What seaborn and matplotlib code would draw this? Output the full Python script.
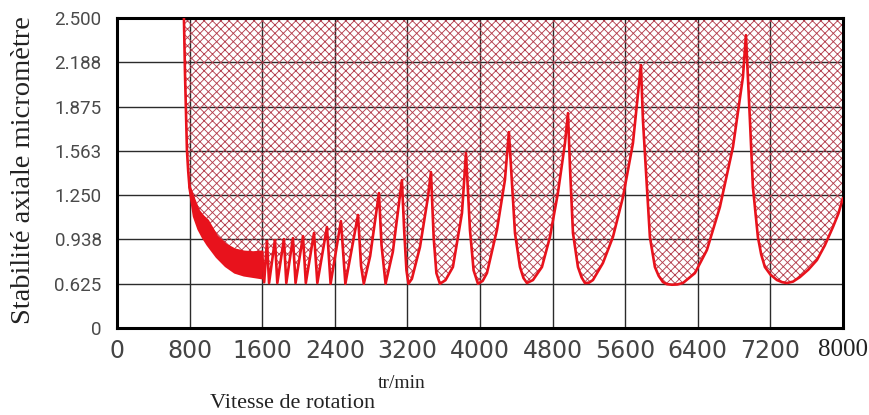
import pandas as pd
import numpy as np
import seaborn as sns
import matplotlib.pyplot as plt

# curve values (rpm, micrometre)
entry_rpm = [738, 750, 760, 771, 785, 800]
entry_um = [2.50, 2.10, 1.85, 1.57, 1.42, 1.30]

# dense small lobes between 800 and 1600 rpm form a solid band
band_rpm = [800, 850, 900, 950, 1000, 1100, 1200, 1300, 1400, 1500, 1600]
band_low = [1.30, 1.10, 1.01, 0.95, 0.90, 0.815, 0.75, 0.705, 0.685, 0.675, 0.665]
band_high = [1.31, 1.22, 1.14, 1.10, 1.07, 0.96, 0.90, 0.865, 0.85, 0.845, 0.85]

lobe_rpm = [1600, 1622, 1653, 1676, 1741, 1767, 1840, 1866, 1939, 1968,
            2050, 2081, 2171, 2208, 2314, 2354, 2468, 2517, 2656, 2690,
            2720, 2790, 2887, 2915, 2960, 3040, 3140, 3165, 3190, 3212,
            3250, 3339, 3427, 3460, 3490, 3520, 3559, 3620, 3702, 3802,
            3846, 3890, 3930, 3978, 4030, 4077, 4187, 4275, 4319, 4353,
            4386, 4441, 4480, 4518, 4584, 4683, 4771, 4859, 4937, 4970,
            4992, 5025, 5080, 5120, 5157, 5200, 5245, 5355, 5465, 5576,
            5686, 5774, 5796, 5840, 5873, 5928, 5970, 6016, 6060, 6116,
            6175, 6237, 6369, 6501, 6644, 6788, 6898, 6931, 6975, 7008,
            7063, 7100, 7140, 7200, 7273, 7330, 7383, 7450, 7526, 7620,
            7713, 7800, 7890, 7950, 8000]
lobe_um = [0.85, 0.635, 0.926, 0.63, 0.933, 0.63, 0.940, 0.63, 0.947, 0.63,
           0.961, 0.63, 0.983, 0.63, 1.025, 0.625, 1.067, 0.625, 1.110, 0.75,
           0.625, 0.82, 1.265, 0.90, 0.625, 0.85, 1.356, 1.00, 0.72, 0.625,
           0.66, 0.884, 1.236, 1.413, 0.95, 0.70, 0.625, 0.65, 0.743, 1.124,
           1.547, 1.004, 0.72, 0.625, 0.645, 0.700, 1.004, 1.356, 1.695, 1.335,
           0.983, 0.743, 0.665, 0.630, 0.651, 0.743, 0.954, 1.265, 1.617, 1.829,
           1.448, 0.983, 0.743, 0.670, 0.630, 0.632, 0.651, 0.771, 0.954, 1.236,
           1.617, 2.168, 1.780, 1.307, 0.954, 0.743, 0.680, 0.637, 0.622, 0.618,
           0.620, 0.630, 0.700, 0.863, 1.166, 1.589, 2.083, 2.379, 1.780, 1.307,
           0.954, 0.830, 0.743, 0.690, 0.651, 0.636, 0.630, 0.640, 0.672, 0.725,
           0.792, 0.895, 1.025, 1.120, 1.23]

x_ticks = [0, 800, 1600, 2400, 3200, 4000, 4800, 5600, 6400, 7200, 8000]
y_ticks = [0.3125, 0.625, 0.9375, 1.25, 1.5625, 1.875, 2.1875, 2.5]
y_labels = ["0", "0.625", "0.938", "1.250", "1.563", "1.875", "2.188", "2.500"]

RED = "#e8121c"
HATCH = "#b5404f"

sns.set_style("white")
plt.rcParams["hatch.color"] = HATCH
plt.rcParams["hatch.linewidth"] = 0.65

fig, ax = plt.subplots(figsize=(8.69, 4.15), dpi=100)
fig.subplots_adjust(left=0.1346, right=0.970, top=0.9566, bottom=0.2096)

# unstable region above the curve, cross hatched
top_rpm = entry_rpm[:-1] + band_rpm + lobe_rpm[1:]
top_um = entry_um[:-1] + band_high + lobe_um[1:]
ax.fill_between(top_rpm, top_um, 2.5, facecolor="none", edgecolor=HATCH,
                hatch="xxxx", linewidth=0, zorder=2)

ax.fill_between(band_rpm, band_low, band_high, color=RED, linewidth=0, zorder=3)

curve = pd.concat([
    pd.DataFrame({"rpm": entry_rpm + band_rpm[1:], "um": entry_um + band_low[1:], "part": 0}),
    pd.DataFrame({"rpm": band_rpm, "um": band_high, "part": 1}),
    pd.DataFrame({"rpm": lobe_rpm, "um": lobe_um, "part": 2}),
])
sns.lineplot(data=curve, x="rpm", y="um", units="part", estimator=None,
             sort=False, color=RED, lw=1.9, ax=ax, zorder=4)

ax.set_xlim(0, 8000)
ax.set_ylim(0.3125, 2.5)
ax.set_xticks(x_ticks)
ax.set_xticklabels([str(t) for t in x_ticks])
ax.set_yticks(y_ticks)
ax.set_yticklabels(y_labels)
ax.set_axisbelow(True)
ax.grid(True, color="#2b2b2b", lw=1)
for s in ax.spines.values():
    s.set_color("black")
    s.set_linewidth(2.2)
ax.tick_params(length=0)
ax.tick_params(axis="x", pad=8)
ax.tick_params(axis="y", pad=11)

for lab in ax.get_xticklabels():
    lab.set_fontfamily(["Liberation Sans Narrow", "DejaVu Sans"])
    lab.set_fontsize(17)
    lab.set_color("#444444")
last = ax.get_xticklabels()[-1]
last.set_fontfamily(["Liberation Serif", "DejaVu Serif"])
last.set_fontsize(18)
last.set_color("#222222")
for lab in ax.get_yticklabels():
    lab.set_fontfamily(["Roboto", "DejaVu Sans"])
    lab.set_fontsize(13.5)
    lab.set_color("#4a4a4a")

ax.set_xlabel("")
ax.set_ylabel("")
fig.text(0.242, 0.018, "Vitesse de rotation", family=["Liberation Serif"],
         fontsize=16, color="#222222", ha="left", va="baseline")
fig.text(0.435, 0.066, "tr/min", family=["Liberation Serif"],
         fontsize=14, color="#222222", ha="left", va="baseline")
fig.text(0.027, 0.59, "Stabilité axiale micromètre", family=["Liberation Serif"],
         fontsize=20.5, color="#222222", rotation=90, ha="center", va="center")

plt.savefig("out.png", dpi=100)
